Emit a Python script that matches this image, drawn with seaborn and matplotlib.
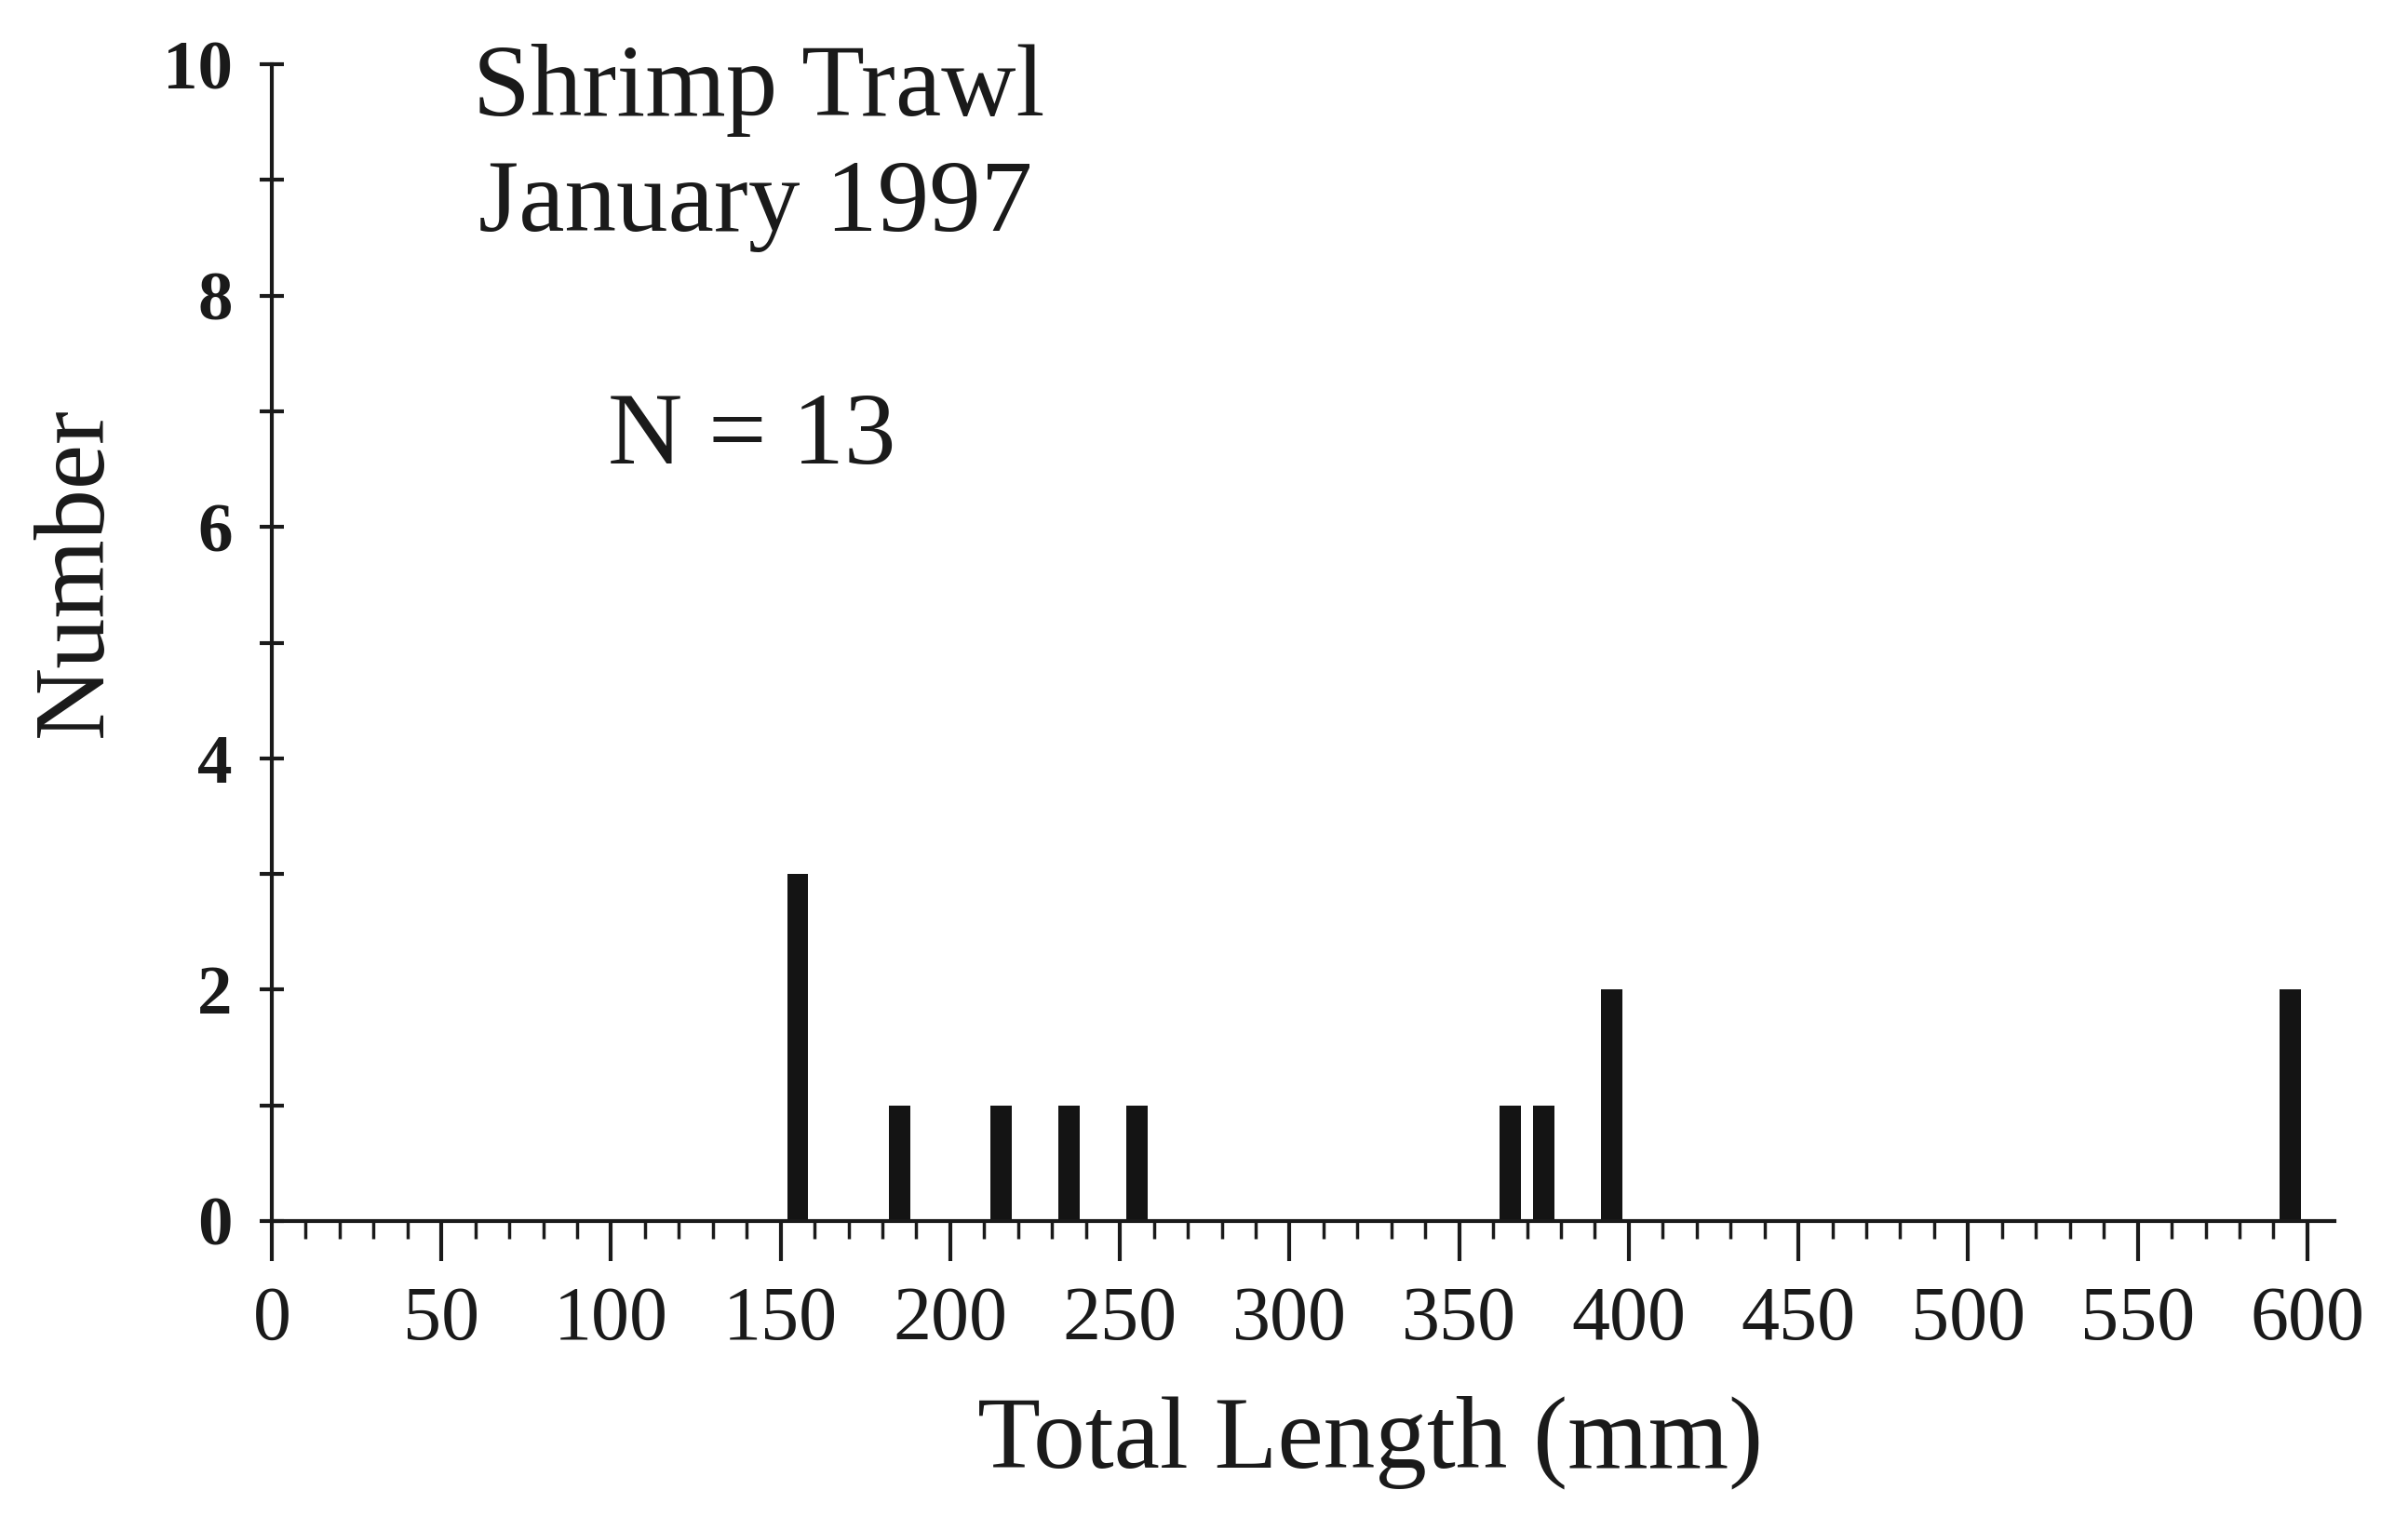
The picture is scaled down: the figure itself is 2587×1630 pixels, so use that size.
import matplotlib
matplotlib.use("Agg")
import matplotlib.pyplot as plt
import seaborn as sns
import pandas as pd
from matplotlib.ticker import MultipleLocator, FixedLocator

# ---- data ----
bin_centers = [155, 185, 215, 235, 255, 365, 375, 395, 595]   # mm (10-mm bins)
counts = [3, 1, 1, 1, 1, 1, 1, 2, 2]
x_ticks = [0, 50, 100, 150, 200, 250, 300, 350, 400, 450, 500, 550, 600]
y_ticks = [0, 2, 4, 6, 8, 10]
title_lines = ["Shrimp Trawl", "January 1997"]
n_label = "N = 13"
x_label = "Total Length (mm)"
y_label = "Number"

sns.set_theme(style="white")
plt.rcParams['font.family'] = ['Liberation Serif', 'DejaVu Serif']

W, H = 2587, 1630
fig = plt.figure(figsize=(W / 100, H / 100), dpi=100)
fig.patch.set_facecolor("white")
ax_left, ax_right, ax_top, ax_bottom = 292, 2508, 69, 1312
ax = fig.add_axes([ax_left / W, 1 - ax_bottom / H, (ax_right - ax_left) / W, (ax_bottom - ax_top) / H])
ax.set_facecolor("white")

df = pd.DataFrame({"length": bin_centers, "count": counts})
sns.histplot(data=df, x="length", weights="count", binwidth=10, binrange=(0, 600),
             shrink=0.62, color="#141414", alpha=1, linewidth=0, ax=ax)

ax.set_xlim(0, 608)
ax.set_ylim(0, 10)

for s in ["top", "right"]:
    ax.spines[s].set_visible(False)
for s in ["left", "bottom"]:
    ax.spines[s].set_linewidth(3)
    ax.spines[s].set_color("#1a1a1a")

ax.xaxis.set_major_locator(FixedLocator(x_ticks))
ax.xaxis.set_minor_locator(MultipleLocator(10))
ax.yaxis.set_major_locator(FixedLocator(y_ticks))
ax.yaxis.set_minor_locator(MultipleLocator(1))
ax.set_xticklabels([str(v) for v in x_ticks])
ax.set_yticklabels([str(v) for v in y_ticks])

ax.tick_params(axis="x", which="major", direction="out", length=31, width=3,
               color="#1a1a1a", labelsize=59, pad=19, bottom=True)
ax.tick_params(axis="x", which="minor", direction="out", length=14, width=2.5,
               color="#1a1a1a", bottom=True)
ax.tick_params(axis="y", which="both", direction="inout", length=19, width=3,
               color="#1a1a1a", left=True)
ax.tick_params(axis="y", which="major", labelsize=54, pad=21)
for lbl in ax.get_yticklabels():
    lbl.set_fontweight("bold")
for lbl in ax.get_xticklabels() + ax.get_yticklabels():
    lbl.set_color("#1a1a1a")

ax.set_xlabel(x_label, fontsize=80, color="#1a1a1a", va="baseline")
ax.xaxis.set_label_coords((1472 - ax_left) / (ax_right - ax_left),
                          (ax_bottom - 1576) / (ax_bottom - ax_top))
ax.set_ylabel(y_label, fontsize=78, color="#1a1a1a", va="center")
ax.yaxis.set_label_coords((83 - ax_left) / (ax_right - ax_left),
                          (ax_bottom - 614) / (ax_bottom - ax_top))

fig.text(815 / W, 1 - 124 / H, title_lines[0], fontsize=80, ha="center", va="baseline", color="#1a1a1a")
fig.text(812 / W, 1 - 248 / H, title_lines[1], fontsize=80, ha="center", va="baseline", color="#1a1a1a")
fig.text(808 / W, 1 - 498 / H, n_label, fontsize=80, ha="center", va="baseline", color="#1a1a1a")

fig.savefig("out.png", dpi=100, facecolor="white")
